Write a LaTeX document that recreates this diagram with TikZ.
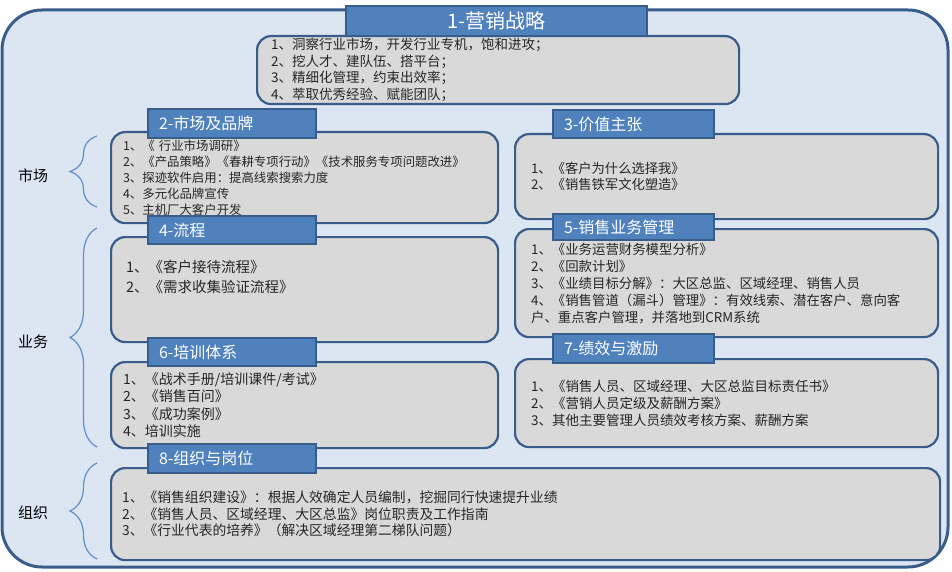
\documentclass[tikz,border=0pt]{standalone}
\usepackage{fontspec}
\setmainfont{Noto Sans CJK SC}
\usetikzlibrary{decorations.pathreplacing}
\definecolor{framblue}{HTML}{385D8A}
\definecolor{backblue}{HTML}{DCE6F2}
\definecolor{headblue}{HTML}{4F81BD}
\definecolor{bodygrey}{HTML}{D9D9D9}
\definecolor{braceblue}{HTML}{5F8FCB}
\definecolor{textgrey}{HTML}{262626}
\begin{document}
\begin{tikzpicture}
[x=1pt,y=-1pt,%
  outerbox/.style={draw=framblue,fill=backblue,line width=3pt,rounded corners=40pt},%
  bodybox/.style={draw=framblue,fill=bodygrey,line width=2.2pt,rounded corners=14pt,%
    anchor=north west,inner xsep=12pt,inner ysep=0pt,align=left,text=textgrey},%
  headbox/.style={draw=framblue,fill=headblue,line width=2pt,anchor=north west,%
    inner xsep=11pt,inner ysep=0pt,text=white,align=left,font=\fontsize{16}{18}\selectfont},%
  sidebrace/.style={draw=braceblue,line width=1.2pt,decorate,decoration={brace,amplitude=27pt}},%
  sidelabel/.style={font=\fontsize{15}{17}\selectfont,text=black}]
\useasboundingbox (0,0) rectangle (952,572);
\draw[outerbox] (2,10) rectangle (948,567);
% contents
\node[bodybox,text width=454pt,minimum height=68pt,inner xsep=14pt,
  font=\fontsize{13.5}{16.5}\selectfont] (b1) at (256,35)
  {1、洞察行业市场，开发行业专机，饱和进攻；\\2、挖人才、建队伍、搭平台；\\
   3、精细化管理，约束出效率；\\4、萃取优秀经验、赋能团队；};
\node[bodybox,text width=363pt,minimum height=91pt,
  font=\fontsize{12.4}{16}\selectfont] (b2) at (110,131)
  {1、《 行业市场调研》\\2、《产品策略》《春耕专项行动》《技术服务专项问题改进》\\
   3、探迹软件启用：提高线索搜索力度\\4、多元化品牌宣传\\5、主机厂大客户开发};
\node[bodybox,text width=391pt,minimum height=85pt,inner xsep=16pt,
  font=\fontsize{13.3}{16.5}\selectfont] (b3) at (514,133)
  {1、《客户为什么选择我》\\2、《销售铁军文化塑造》};
\node[bodybox,text width=357pt,minimum height=105pt,inner xsep=15pt,
  font=\fontsize{14.5}{20}\selectfont] (b4) at (110,236)
  {1、《客户接待流程》\\2、《需求收集验证流程》\\ \strut};
\node[bodybox,text width=391pt,minimum height=108pt,inner xsep=16pt,
  font=\fontsize{13.4}{17}\selectfont] (b5) at (514,228)
  {1、《业务运营财务模型分析》\\2、《回款计划》\\3、《业绩目标分解》：大区总监、区域经理、销售人员\\
   4、《销售管道（漏斗）管理》：有效线索、潜在客户、意向客\\户、重点客户管理，并落地到CRM系统};
\node[bodybox,text width=363pt,minimum height=86pt,
  font=\fontsize{14}{17.5}\selectfont] (b6) at (110,361)
  {1、《战术手册/培训课件/考试》\\2、《销售百问》\\3、《成功案例》\\4、培训实施};
\node[bodybox,text width=391pt,minimum height=88pt,inner xsep=16pt,
  font=\fontsize{13.5}{17}\selectfont] (b7) at (514,358)
  {1、《销售人员、区域经理、大区总监目标责任书》\\2、《营销人员定级及薪酬方案》\\
   3、其他主要管理人员绩效考核方案、薪酬方案};
\node[bodybox,text width=807pt,minimum height=92pt,inner xsep=11pt,
  font=\fontsize{13.8}{16.5}\selectfont] (b8) at (110,467)
  {1、《销售组织建设》：根据人效确定人员编制，挖掘同行快速提升业绩\\
   2、《销售人员、区域经理、大区总监》岗位职责及工作指南\\
   3、《行业代表的培养》（解决区域经理第二梯队问题）};
% titles
\node[headbox,minimum width=301pt,minimum height=30pt,align=center,
  font=\fontsize{20}{22}\selectfont] (h1) at (345,5) {1-营销战略};
\node[headbox,text width=146pt,minimum height=29pt] (h2) at (147,108) {2-市场及品牌};
\node[headbox,text width=139pt,minimum height=28pt] (h3) at (552,109) {3-价值主张};
\node[headbox,text width=146pt,minimum height=28pt] (h4) at (147,215) {4-流程};
\node[headbox,text width=139pt,minimum height=26pt] (h5) at (552,213) {5-销售业务管理};
\node[headbox,text width=146pt,minimum height=28pt] (h6) at (147,337) {6-培训体系};
\node[headbox,text width=139pt,minimum height=29pt] (h7) at (552,333) {7-绩效与激励};
\node[headbox,text width=146pt,minimum height=29pt] (h8) at (147,443) {8-组织与岗位};
% groups
\draw[sidebrace] (97,207) -- (97,136);
\draw[sidebrace] (97,447) -- (97,228);
\draw[sidebrace] (97,559) -- (97,463);
\node[sidelabel] (market) at (33,176) {市场};
\node[sidelabel] (business) at (33,342) {业务};
\node[sidelabel] (organize) at (33,513) {组织};
\end{tikzpicture}
\end{document}
